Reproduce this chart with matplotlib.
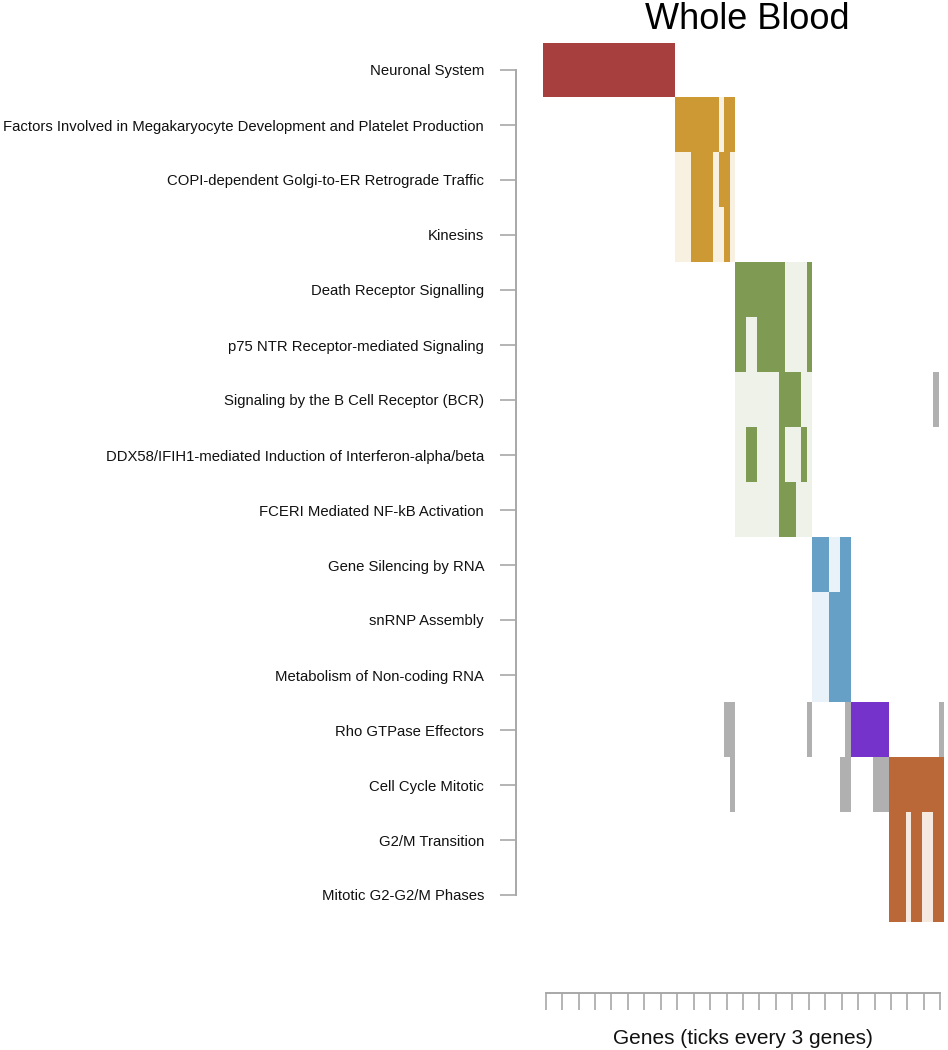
import numpy as np
import matplotlib
matplotlib.use("Agg")
import matplotlib.pyplot as plt
from matplotlib.colors import to_rgb

plt.rcParams['font.family'] = ['Liberation Sans', 'DejaVu Sans']

pathways = [
    "Neuronal System",
    "Factors Involved in Megakaryocyte Development and Platelet Production",
    "COPI-dependent Golgi-to-ER Retrograde Traffic",
    "Kinesins",
    "Death Receptor Signalling",
    "p75 NTR Receptor-mediated Signaling",
    "Signaling by the B Cell Receptor (BCR)",
    "DDX58/IFIH1-mediated Induction of Interferon-alpha/beta",
    "FCERI Mediated NF-kB Activation",
    "Gene Silencing by RNA",
    "snRNP Assembly",
    "Metabolism of Non-coding RNA",
    "Rho GTPase Effectors",
    "Cell Cycle Mitotic",
    "G2/M Transition",
    "Mitotic G2-G2/M Phases",
]
# cluster of each pathway
pathway_cluster = [0, 1, 1, 1, 2, 2, 2, 2, 2, 3, 3, 3, 4, 5, 5, 5]
# number of genes in each cluster (genes ordered by cluster)
cluster_sizes = [24, 11, 14, 7, 7, 10]
cluster_dark = ["#A83F3F", "#CC9935", "#7E9A53", "#66A0C6", "#7633CC", "#BB6838"]
cluster_light = ["#FFFFFF", "#F8F1E1", "#EFF2E8", "#E9F2F9", "#FFFFFF", "#F6EAE0"]
other_color = "#B0B0B0"

# gene indices belonging to each pathway
members = [
    list(range(0, 24)),
    list(range(24, 32)) + [33, 34],
    [27, 28, 29, 30, 32, 33],
    [27, 28, 29, 30, 33],
    list(range(35, 44)) + [48],
    [35, 36, 39, 40, 41, 42, 43, 48],
    [43, 44, 45, 46, 71],
    [37, 38, 43, 47],
    [43, 44, 45],
    [49, 50, 51, 54, 55],
    [52, 53, 54, 55],
    [52, 53, 54, 55],
    [33, 34, 48, 55] + list(range(56, 63)) + [72],
    [34, 54, 55] + list(range(60, 73)),
    [63, 64, 65, 67, 68, 71, 72],
    [63, 64, 65, 67, 68, 71, 72],
]

n_genes = sum(cluster_sizes)
n_rows = len(pathways)
gene_cluster = np.repeat(np.arange(len(cluster_sizes)), cluster_sizes)

img = np.ones((n_rows, n_genes, 3))
for r in range(n_rows):
    c = pathway_cluster[r]
    for g in range(n_genes):
        if g in members[r]:
            col = cluster_dark[c] if gene_cluster[g] == c else other_color
        elif gene_cluster[g] == c:
            col = cluster_light[c]
        else:
            col = "#FFFFFF"
        img[r, g] = to_rgb(col)

W, H = 948, 1050
fig = plt.figure(figsize=(W / 100, H / 100), dpi=100)
left, right, top, bot = 543, 943, 42.5, 922.5
ax = fig.add_axes([left / W, 1 - bot / H, (right - left) / W, (bot - top) / H])
ax.imshow(img, aspect='auto', interpolation='nearest',
          extent=(-0.5, n_genes - 0.5, n_rows - 0.5, -0.5))
ax.set_xlim(-0.5, n_genes - 0.5)
ax.set_ylim(n_rows - 0.5, -0.5)

grey = "#A8A8A8"
for s in ['top', 'right']:
    ax.spines[s].set_visible(False)
ax.spines['left'].set_position(('outward', 27 * 0.72))
ax.spines['left'].set_bounds(0, n_rows - 1)
ax.spines['bottom'].set_position(('outward', 70.5 * 0.72))
ax.spines['bottom'].set_bounds(0, n_genes - 1)
for s in ['left', 'bottom']:
    ax.spines[s].set_color(grey)
    ax.spines[s].set_linewidth(1.4)

ax.set_yticks(range(n_rows))
ax.set_yticklabels(pathways, fontsize=10.7, color="#111111")
ax.tick_params(axis='y', length=16 * 0.72, width=1.2, color=grey, pad=16 * 0.72)
ax.set_xticks(np.arange(0, n_genes, 3))
ax.set_xticklabels([])
ax.tick_params(axis='x', length=17 * 0.72, width=1.2, color=grey, direction='out')
ax.set_xlabel("Genes (ticks every 3 genes)", fontsize=15, labelpad=10, color="#111111")
ax.set_title("Whole Blood", fontsize=26, pad=10, x=0.51)

fig.savefig("out.png", dpi=100)
